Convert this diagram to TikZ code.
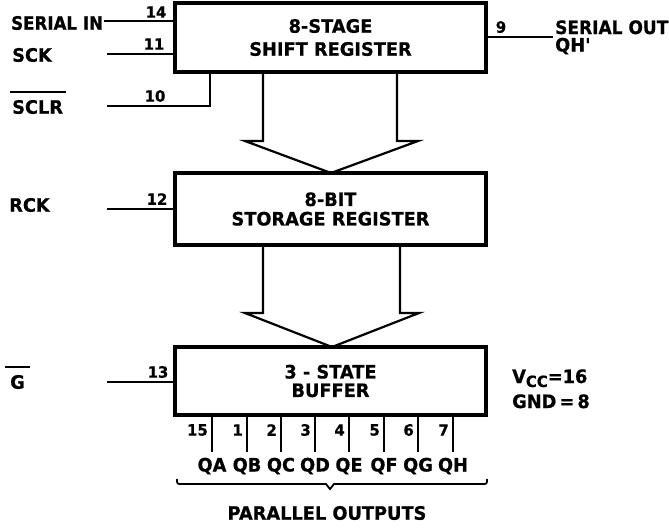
\documentclass[tikz,border=0pt]{standalone}
\usepackage{fontspec}
\setmainfont{DejaVu Sans}[FakeStretch=0.96, BoldFeatures={FakeBold=0.6}]
\begin{document}
\begin{tikzpicture}[x=1pt,y=-1pt,
  lbl/.style={font=\fontsize{18.5}{21}\selectfont\bfseries, inner sep=0pt},
  pinnum/.style={font=\fontsize{15.5}{16}\selectfont\bfseries, inner sep=0pt},
  blk/.style={draw, line width=3.8pt, outer sep=0pt, minimum width=311pt, align=center,
    inner sep=0pt},
  wire/.style={line width=2pt},
  chev/.style={line width=2.2pt, line join=miter}]
\useasboundingbox (0,0) rectangle (669,528);
% blocks
\node[blk, minimum height=69pt, font=\fontsize{18.5}{23}\selectfont\bfseries] (sr) at (330.5,37.5) {8-STAGE\\SHIFT REGISTER};
\node[blk, minimum height=72pt, font=\fontsize{18.5}{19.5}\selectfont\bfseries] (st) at (330.5,209) {8-BIT\\STORAGE REGISTER};
\node[blk, minimum height=68pt, font=\fontsize{18.5}{18.5}\selectfont\bfseries] (bu) at (330.5,381) {3 - STATE\\BUFFER};
% chevrons
\draw[chev] (263,72) -- (263,141) -- (245,141) -- (331,173) -- (418,141) -- (397,141) -- (397,72);
\draw[chev] (263,245) -- (263,313) -- (245,313) -- (332,347) -- (419,313) -- (400,313) -- (400,245);
% inputs
\node[lbl, anchor=west, font=\fontsize{18.5}{21}\selectfont\bfseries\addfontfeature{FakeStretch=0.9}] (sin) at (11,23) {SERIAL IN};
\coordinate (sinE) at (104,21);
\draw[wire] (sinE) -- (sinE -| sr.west);
\node[pinnum] (p14) at (156,12) {14};
\node[lbl, anchor=west] (sck) at (12,55) {SCK};
\coordinate (sckE) at (107,54);
\draw[wire] (sckE) -- (sckE -| sr.west);
\node[pinnum] (p11) at (154,44) {11};
\node[lbl, anchor=west] (sclr) at (12,107) {SCLR};
\draw[wire] ([xshift=-2pt,yshift=8pt]sclr.north west) -- ([xshift=3pt,yshift=8pt]sclr.north east);
\coordinate (clrE) at (107,106);
\draw[wire] (clrE) -| ([xshift=-120.5pt]sr.south);
\node[pinnum] (p10) at (155,96) {10};
\node[lbl, anchor=west] (rck) at (9,205) {RCK};
\coordinate (rckE) at (107,209);
\draw[wire] (rckE) -- (rckE -| st.west);
\node[pinnum] (p12) at (157,199) {12};
\node[lbl, anchor=west] (g) at (10,382) {G};
\draw[wire] ([xshift=-5pt,yshift=8pt]g.north west) -- ([xshift=5pt,yshift=8pt]g.north east);
\coordinate (gE) at (107,382);
\draw[wire] (gE) -- (gE -| bu.west);
\node[pinnum] (p13) at (158,372) {13};
% serial out
\coordinate (soE) at (553,37);
\draw[wire] (soE -| sr.east) -- (soE);
\node[pinnum] (p9) at (501,27) {9};
\node[lbl, anchor=base west, font=\fontsize{18.5}{21}\selectfont\bfseries\addfontfeature{FakeStretch=0.92}] (sout) at (555,34) {SERIAL OUT};
\node[lbl, anchor=base west] (qhp) at (555,51.5) {QH\textquotesingle};
% outputs
\foreach \x/\n/\q [count=\i] in {212/15/QA, 247/1/QB, 281/2/QC, 315/3/QD, 349/4/QE, 384/5/QF, 418/6/QG, 453/7/QH} {
  \coordinate (o\i) at (\x,452);
  \draw[wire] (o\i |- bu.south) -- (o\i);
  \node[pinnum, anchor=east] (pn\i) at (\x-4,430) {\n};
  \node[lbl, anchor=base] (q\i) at (\x,471.5) {\q};
}
% brace
\draw[line width=1.8pt] (177,479) .. controls (177,484) .. (182,484) -- (326,484) -- (330,489) -- (334,484) -- (482,484) .. controls (487,484) .. (487,479);
\node[lbl] (par) at (327,513) {PARALLEL OUTPUTS};
% supply
\node[lbl, anchor=base west] (vcc) at (512,383) {V\raisebox{-4pt}{\fontsize{15.5}{15}\selectfont CC}=16};
\node[lbl, anchor=base west] (gnd) at (512,408) {GND\,=\,8};
\end{tikzpicture}
\end{document}
